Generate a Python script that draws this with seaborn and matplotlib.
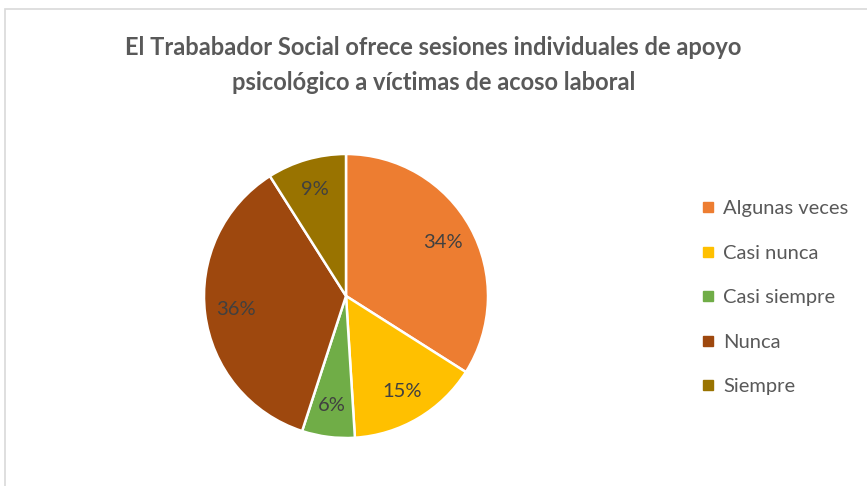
import matplotlib
matplotlib.use("Agg")
import matplotlib.pyplot as plt
from matplotlib.lines import Line2D
from matplotlib.patches import Rectangle
import seaborn as sns

categories = ["Algunas veces", "Casi nunca", "Casi siempre", "Nunca", "Siempre"]
values = [34, 15, 6, 36, 9]
colors = ["#ED7D31", "#FFC000", "#70AD47", "#9E480E", "#997300"]
title = "El Trababador Social ofrece sesiones individuales de apoyo\npsicológico a víctimas de acoso laboral"

sns.set_theme(style="white")
plt.rcParams['font.family'] = ['Lato', 'DejaVu Sans']

W, H = 867, 486
fig = plt.figure(figsize=(W / 100, H / 100), dpi=100)
fig.patch.set_facecolor("white")

# chart border (top and left visible)
fig.patches.append(Rectangle((5 / W, -0.1), 1.2, (H - 9) / H + 0.1, transform=fig.transFigure,
                             fill=False, edgecolor="#D9D9D9", linewidth=1.2))

cx, cy, r = 346, 296, 142
ax = fig.add_axes([(cx - r) / W, (H - cy - r) / H, 2 * r / W, 2 * r / H])
wedges, texts, autotexts = ax.pie(
    values, colors=colors, startangle=90, counterclock=False,
    autopct=lambda p: f"{p:.0f}%", pctdistance=0.78, radius=1,
    wedgeprops=dict(edgecolor="white", linewidth=1.8),
    textprops=dict(color="#404040", fontsize=14.5))
ax.set_xlim(-1, 1)
ax.set_ylim(-1, 1)
ax.set_aspect("equal")
ax.axis("off")

fig.text(0.5, (H - 65) / H, title, ha="center", va="center", fontsize=17,
         fontweight="bold", color="#595959", linespacing=1.6)

handles = [Line2D([0], [0], marker="s", linestyle="none", markersize=7,
                  markerfacecolor=c, markeredgecolor=c) for c in colors]
fig.legend(handles, categories, loc="upper left", bbox_to_anchor=(692 / W, (H - 190) / H),
           frameon=False, fontsize=14.5, labelcolor="#595959", handlelength=0.6,
           handletextpad=0.45, labelspacing=1.36, borderpad=0)

fig.savefig("out.png", dpi=100)
